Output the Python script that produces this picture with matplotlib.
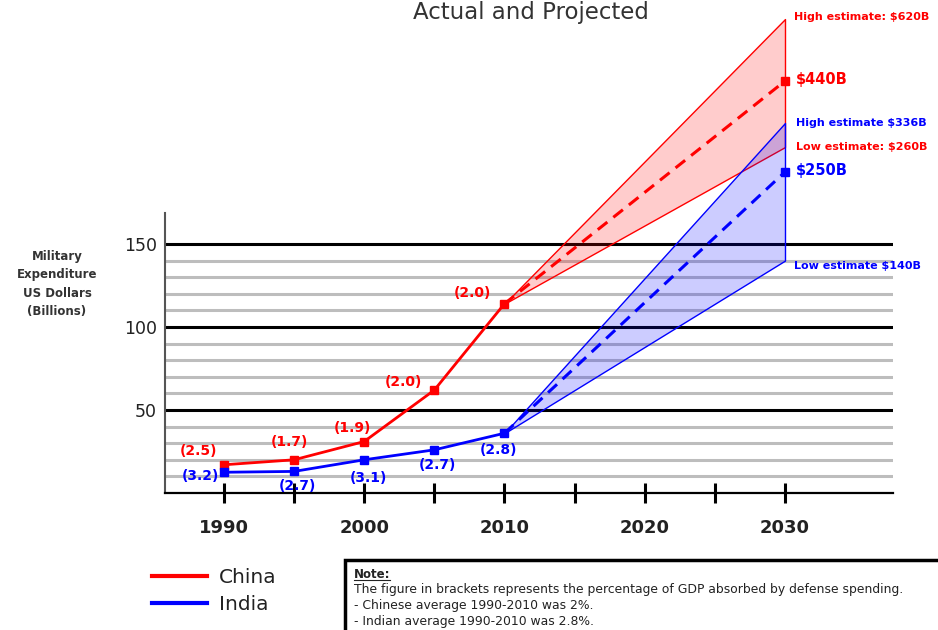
import numpy as np
import matplotlib.pyplot as plt
from matplotlib.lines import Line2D
from matplotlib.patches import Rectangle

# actual spending, billions of US dollars
years = [1990, 1995, 2000, 2005, 2010]
china = [17, 20, 31, 62, 114]
india = [12.5, 13, 20, 26, 36]
# share of GDP spent on defence, shown in brackets
china_gdp = ['(2.5)', '(1.7)', '(1.9)', '(2.0)', '(2.0)']
india_gdp = ['(3.2)', '(2.7)', '(3.1)', '(2.7)', '(2.8)']

# 2030 projections
proj_year = 2030
china_proj = {'low': 260, 'mid': 440, 'high': 620}
india_proj = {'low': 140, 'mid': 250, 'high': 336}

# label offsets in pixels (china, india)
china_off = [(-25, 14), (-5, 18), (-12, 14), (-31, 8), (-32, 11)]
india_off = [(-23, -4), (3, -15), (4, -18), (3, -15), (-6, -17)]

# the projection range above 150 is drawn on a compressed scale
scale_vals = [0, 150, 250, 260, 336, 440, 620, 2000]
scale_draw = [0, 150, 193.4, 208.4, 222.9, 248.2, 285.5, 400]


def fwd(v):
    return np.interp(v, scale_vals, scale_draw)


def inv(d):
    return np.interp(d, scale_draw, scale_vals)


RED = '#ff0000'
BLUE = '#0000ff'

fig = plt.figure(figsize=(9.38, 6.30), dpi=100)
ax = fig.add_axes([165 / 938, (630 - 493) / 630, (893 - 165) / 938, 493 / 630])
ax.set_yscale('function', functions=(fwd, inv))
ax.set_xlim(1985.8, 2037.7)
ax.set_ylim(0, float(inv(493 / 1.66)))

for v in range(10, 160, 10):
    if v % 50 == 0:
        ax.axhline(v, color='black', lw=2.2, zorder=1)
    else:
        ax.axhline(v, color='#bdbdbd', lw=2.2, zorder=0.5)

for s in ['top', 'right']:
    ax.spines[s].set_visible(False)
ax.spines['left'].set_bounds(0, float(inv(168.5)))
ax.spines['left'].set_color('#555555')
ax.spines['left'].set_linewidth(1.5)
ax.spines['bottom'].set_linewidth(1.6)

ax.set_xticks([1990, 2000, 2010, 2020, 2030])
ax.set_xticks([1995, 2005, 2015, 2025], minor=True)
ax.tick_params(axis='x', which='both', direction='inout', length=15, width=2.2,
               pad=11, labelsize=13)
for lbl in ax.get_xticklabels():
    lbl.set_fontweight('bold')
    lbl.set_color('#222222')
ax.set_yticks([50, 100, 150])
ax.set_yticks([], minor=True)
ax.tick_params(axis='y', length=0, pad=6, labelsize=12.5, labelcolor='#222222')

# projection cones
ax.fill_between([years[-1], proj_year], [china[-1], china_proj['low']],
                [china[-1], china_proj['high']], facecolor=(1, 0, 0, 0.2),
                edgecolor=RED, lw=1, zorder=2)
ax.fill_between([years[-1], proj_year], [india[-1], india_proj['low']],
                [india[-1], india_proj['high']], facecolor=(0, 0, 1, 0.2),
                edgecolor=BLUE, lw=1, zorder=2.1)
ax.plot([years[-1], proj_year], [china[-1], china_proj['mid']], ls='--',
        dashes=(4, 2.5), color=RED, lw=2.2, marker='s', ms=6, markevery=[1],
        zorder=3)
ax.plot([years[-1], proj_year], [india[-1], india_proj['mid']], ls='--',
        dashes=(4, 2.5), color=BLUE, lw=2.2, marker='s', ms=6, markevery=[1],
        zorder=3)

# actual series
ax.plot(years, china, color=RED, lw=2, marker='s', ms=6, zorder=4)
ax.plot(years, india, color=BLUE, lw=2, marker='s', ms=6, zorder=4)

for x, y, t, o in zip(years, china, china_gdp, china_off):
    ax.annotate(t, (x, y), xytext=o, textcoords='offset pixels', ha='center',
                va='center', color=RED, fontsize=10, fontweight='bold', zorder=5)
for x, y, t, o in zip(years, india, india_gdp, india_off):
    ax.annotate(t, (x, y), xytext=o, textcoords='offset pixels', ha='center',
                va='center', color=BLUE, fontsize=10, fontweight='bold', zorder=5)

# 2030 estimate labels
est = [
    (china_proj['high'], 'High estimate: ${}B', RED, 8, (9, 2)),
    (china_proj['mid'], '${}B', RED, 10.5, (11, 1)),
    (india_proj['high'], 'High estimate ${}B', BLUE, 8, (11, 0)),
    (china_proj['low'], 'Low estimate: ${}B', RED, 8, (11, 0)),
    (india_proj['mid'], '${}B', BLUE, 10.5, (11, 1)),
    (india_proj['low'], 'Low estimate ${}B', BLUE, 8, (9, -5)),
]
for v, fmt, c, fs, o in est:
    ax.annotate(fmt.format(v), (proj_year, v), xytext=o, textcoords='offset pixels',
                ha='left', va='center', color=c, fontsize=fs, fontweight='bold',
                annotation_clip=False)

fig.text(531 / 938, 1 - 1 / 630, 'Actual and Projected', ha='center', va='top',
         fontsize=16.5, color='#333333')
fig.text(57 / 938, 1 - 284 / 630, 'Military\nExpenditure\nUS Dollars\n(Billions)',
         ha='center', va='center', fontsize=8.5, fontweight='bold', color='#333333',
         linespacing=1.55)

handles = [Line2D([], [], color=RED, lw=3), Line2D([], [], color=BLUE, lw=3)]
fig.legend(handles, ['China', 'India'], loc='upper left',
           bbox_to_anchor=(134 / 938, 1 - 550 / 630), frameon=False, fontsize=14.5,
           handlelength=2.7, handletextpad=0.6, labelspacing=0.4, labelcolor='#222222')

fig.add_artist(Rectangle((345 / 938, -0.05), 0.7, 0.05 + 70 / 630,
                         transform=fig.transFigure, facecolor='white',
                         edgecolor='black', lw=2.5))
fig.text(354 / 938, 1 - 574 / 630, 'Note:', fontsize=8.5, fontweight='bold',
         va='center', color='#222222')
fig.add_artist(Line2D([354 / 938, 390 / 938], [1 - 580 / 630] * 2, color='#222222',
                      lw=0.8, transform=fig.transFigure))
note_lines = [
    'The figure in brackets represents the percentage of GDP absorbed by defense spending.',
    '- Chinese average 1990-2010 was 2%.',
    '- Indian average 1990-2010 was 2.8%.',
]
for i, line in enumerate(note_lines):
    fig.text(354 / 938, 1 - (590 + 15.5 * i) / 630, line, fontsize=8.9,
             va='center', color='#222222')

fig.savefig('out.png', dpi=100)
